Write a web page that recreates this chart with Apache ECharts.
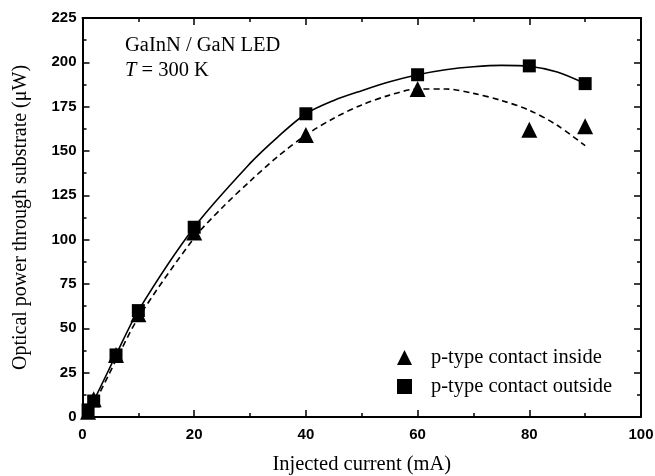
<!DOCTYPE html>
<html>
<head>
<meta charset="utf-8">
<script src="https://cdn.jsdelivr.net/npm/echarts@6/dist/echarts.min.js"></script>
<style>html,body{margin:0;padding:0;background:#fff}#c{width:655px;height:476px}</style>
</head>
<body>
<div id="c"></div>
<script>
// Measured points
const currentInside = [1, 2, 6, 10, 20, 40, 60, 80, 90];
const powerInside   = [3, 10, 35, 58, 104, 159, 185, 162, 164];
const currentOutside = [1, 2, 6, 10, 20, 40, 60, 80, 90];
const powerOutside   = [4, 9, 35, 60, 107, 171, 193, 198, 188];
// Fit curves
const fitOutsideX = [0.5, 1, 2, 6, 10, 20, 30, 35, 40, 45, 50, 55, 60, 65, 70, 75, 80, 85, 90];
const fitOutsideY = [0, 3, 9, 35, 60, 107, 143, 158, 171, 178.5, 184, 189, 193, 195.8, 197.5, 198.3, 197.8, 194.5, 188];
const fitInsideX = [0.5, 1, 2, 6, 10, 20, 25, 30, 35, 40, 45, 50, 55, 60, 65, 70, 75, 80, 85, 90];
const fitInsideY = [0, 2, 7, 32, 56, 101, 118, 133, 147, 159, 168.5, 176, 181.5, 185, 185, 182.5, 178.5, 173, 164.5, 153];
const xTicks = {min: 0, max: 100, interval: 20};
const yTicks = {min: 0, max: 225, interval: 25};
const legendNames = ['p-type contact inside', 'p-type contact outside'];

const zip = (a, b) => a.map((v, i) => [v, b[i]]);
const serif = '"Liberation Serif", "Times New Roman", serif';
const sans = '"Liberation Sans", Arial, sans-serif';

function axisCommon(extra) {
  return Object.assign({
    type: 'value',
    axisLine: {show: true, onZero: false, lineStyle: {color: '#000', width: 2}},
    axisTick: {show: true, inside: true, length: 7, lineStyle: {color: '#000', width: 1.5}},
    minorTick: {show: true, splitNumber: 2, length: 4, lineStyle: {color: '#000', width: 1.5}},
    splitLine: {show: false},
    minorSplitLine: {show: false}
  }, extra);
}

const chart = echarts.init(document.getElementById('c'), null, {renderer: 'canvas'});
chart.setOption({
  animation: false,
  grid: {left: 82.5, right: 14, top: 18, bottom: 59, containLabel: false, outerBoundsMode: 'none'},
  xAxis: [
    axisCommon(Object.assign({}, xTicks, {
      position: 'bottom',
      name: 'Injected current (mA)', nameLocation: 'middle', nameGap: 37,
      nameTextStyle: {fontFamily: serif, fontSize: 20.5, color: '#000'},
      axisLabel: {margin: 10, fontFamily: sans, fontSize: 15, fontWeight: 'bold', color: '#000'}
    })),
    axisCommon(Object.assign({}, xTicks, {position: 'top', axisLabel: {show: false}}))
  ],
  yAxis: [
    axisCommon(Object.assign({}, yTicks, {
      position: 'left',
      name: 'Optical power through substrate (\u03bcW)', nameLocation: 'middle', nameGap: 52,
      nameTextStyle: {fontFamily: serif, fontSize: 20, color: '#000'},
      axisLabel: {margin: 6, fontFamily: sans, fontSize: 15, fontWeight: 'bold', color: '#000'}
    })),
    axisCommon(Object.assign({}, yTicks, {position: 'right', axisLabel: {show: false}}))
  ],
  legend: {
    orient: 'vertical', left: 392, top: 342, itemGap: 8,
    itemWidth: 15, itemHeight: 15,
    textStyle: {fontFamily: serif, fontSize: 20.5, color: '#000', padding: [0, 0, 0, 14]},
    data: [
      {name: legendNames[0], icon: 'triangle'},
      {name: legendNames[1], icon: 'rect'}
    ]
  },
  graphic: [
    {type: 'text', left: 125, top: 35, style: {text: 'GaInN / GaN LED', font: '20.5px ' + serif, fill: '#000'}},
    {type: 'text', left: 125, top: 60, style: {
      text: '{i|T} = 300 K', fill: '#000', font: '20.5px ' + serif,
      rich: {i: {fontStyle: 'italic', fontFamily: serif, fontSize: 20.5}}
    }}
  ],
  series: [
    {type: 'line', name: 'fit outside', data: zip(fitOutsideX, fitOutsideY), smooth: 0.3, showSymbol: false,
     lineStyle: {color: '#000', width: 1.6}, silent: true, z: 2},
    {type: 'line', name: 'fit inside', data: zip(fitInsideX, fitInsideY), smooth: 0.3, showSymbol: false,
     lineStyle: {color: '#000', width: 1.6, type: [6, 4]}, silent: true, z: 2},
    {type: 'scatter', name: legendNames[0], data: zip(currentInside, powerInside), symbol: 'triangle', symbolSize: 16,
     itemStyle: {color: '#000', opacity: 1}, z: 3},
    {type: 'scatter', name: legendNames[1], data: zip(currentOutside, powerOutside), symbol: 'rect', symbolSize: 13,
     itemStyle: {color: '#000', opacity: 1}, z: 4}
  ]
});
</script>
</body>
</html>
